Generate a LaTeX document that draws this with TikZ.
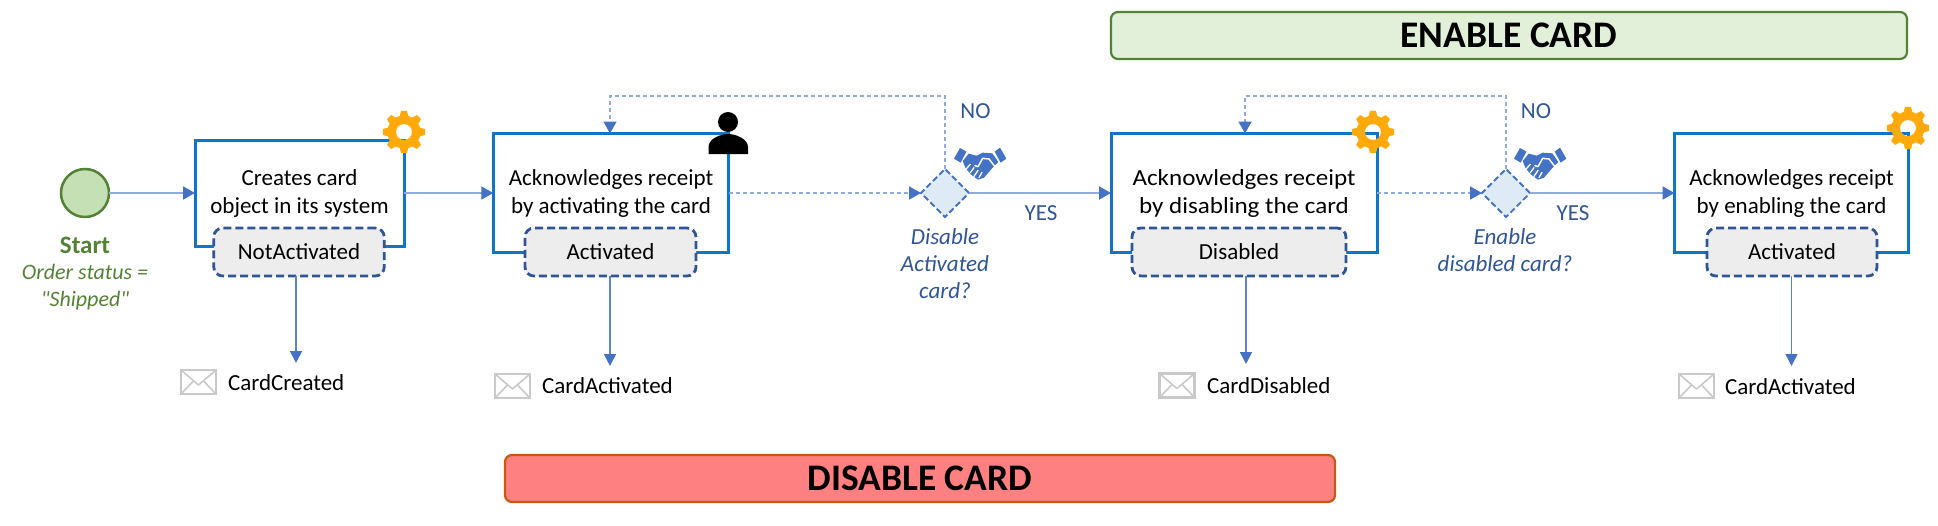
\documentclass[tikz,border=0pt]{standalone}
\usepackage{fontspec}
\setmainfont[Ligatures=TeXOff]{Carlito}
\newfontfamily\widefont[FakeStretch=1.09,Ligatures=TeXOff]{Carlito}
\usetikzlibrary{arrows.meta,shapes.geometric}
\definecolor{boxblue}{HTML}{0F75C9}
\definecolor{stateblue}{HTML}{2F5597}
\definecolor{statefill}{HTML}{EDEDED}
\definecolor{lineblue}{HTML}{8FAADC}
\definecolor{tipblue}{HTML}{4472C4}
\definecolor{diafill}{HTML}{DEEBF7}
\definecolor{startgreen}{HTML}{548235}
\definecolor{startfill}{HTML}{C5E0B4}
\definecolor{gearorange}{HTML}{FFA90B}
\definecolor{envgrey}{HTML}{C9C9C9}
\definecolor{enablefill}{HTML}{E2F0D9}
\definecolor{disablefill}{HTML}{FF8080}
\definecolor{disableline}{HTML}{C55A11}
\tikzset{
  base/.style={inner sep=0pt,outer sep=0pt},
  procbox/.style={base,draw=boxblue,line width=3pt,align=center,font=\fontsize{23}{28}\selectfont},
  statebox/.style={base,draw=stateblue,fill=statefill,line width=2.8pt,rounded corners=9pt,
    dash pattern=on 8pt off 4pt,font=\fontsize{23}{28}\selectfont,minimum height=48pt},
  deci/.style={base,diamond,aspect=1,draw=tipblue,fill=diafill,line width=1.8pt,
    dash pattern=on 6pt off 3pt,minimum width=48pt,minimum height=48pt},
  conn/.style={draw=lineblue,line width=2pt,-{Triangle[length=12pt,width=13pt,color=tipblue]}},
  dconn/.style={conn,line width=1.8pt,dash pattern=on 4pt off 3pt},
  emit/.style={draw=tipblue!70!lineblue,line width=1.6pt,-{Triangle[length=12pt,width=12pt,color=tipblue]}},
  bluetxt/.style={base,text=stateblue,font=\fontsize{23}{27}\selectfont},
  decitxt/.style={base,text=stateblue,align=center,font=\fontsize{23}{27}\itshape\selectfont},
  banner/.style={base,rounded corners=7pt,line width=2.2pt,font=\fontsize{37.5}{42}\bfseries\selectfont},
  evt/.style={base,anchor=west,font=\fontsize{23}{26}\selectfont},
  gearicon/.pic={
    \fill[gearorange,even odd rule]
      plot[domain=0:360,samples=193] ({(16.5+4.7*min(1,max(0,0.5+1.1*cos(8*\x))))*cos(\x)},
                                      {(16.5+4.7*min(1,max(0,0.5+1.1*cos(8*\x))))*sin(\x)}) -- cycle
      (0,0) circle (8);
  },
  envicon/.pic={
    \draw[envgrey,line width=2.6pt] (-17.5,-12) rectangle (17.5,12);
    \draw[envgrey,line width=1.6pt,line join=round] (-17.5,-12) -- (0,3) -- (17.5,-12);
    \draw[envgrey,line width=1.6pt] (-17.5,12) -- (-5,-1) (17.5,12) -- (5,-1);
  },
  shake/.pic={
    \begin{scope}[scale=0.3333,shift={(-178,-215)}]
      \fill[tipblue] (100,205) -- (118,173) -- (137,184) -- (120,217) -- cycle;
      \fill[tipblue] (222,184) -- (238,172) -- (257,205) -- (240,217) -- cycle;
      \fill[tipblue] (126,212) -- (144,190) -- (168,196) -- (186,187) -- (215,189) -- (233,215)
         -- (214,234) -- (190,262) -- (172,268) -- (150,252) -- (134,232) -- cycle;
      \draw[white,line width=1.5pt,line join=round,line cap=round]
         (163,226) -- (172,229) -- (186,204) -- (205,206) -- (222,228);
      \draw[white,line width=1.3pt,line cap=round]
         (149,222) -- (136,236) (160,232) -- (148,248) (172,240) -- (160,258) (184,246) -- (175,262);
    \end{scope}
  },
}
\begin{document}
\begin{tikzpicture}[x=1pt,y=-1pt]
\useasboundingbox (0,0) rectangle (1938,525);
% banners
\node[banner,draw=startgreen,fill=enablefill,minimum width=796pt,minimum height=47pt] (enable) at (1509,35.5) {ENABLE CARD};
\node[banner,draw=disableline,fill=disablefill,minimum width=830pt,minimum height=47pt] (disable) at (920,478.5) {DISABLE CARD};
% start
\node[base,circle,draw=startgreen,fill=startfill,line width=2.5pt,minimum size=48pt] (start) at (85,193) {};
\node[base,text=startgreen,font=\fontsize{25}{28}\bfseries\selectfont] (startlbl) at (85,245) {Start};
\node[base,text=startgreen,align=center,font=\fontsize{22}{26.5}\itshape\selectfont] (startcond) at (85,287) {Order status =\\"Shipped"};
% process boxes
\node[procbox,minimum width=209pt,minimum height=106pt] (box1) at (299.5,193) {Creates card\\object in its system};
\node[procbox,minimum width=235.5pt,minimum height=119pt] (box2) at (611,193) {Acknowledges receipt\\by activating the card};
\node[procbox,minimum width=266pt,minimum height=119pt,font=\fontsize{23}{28}\widefont] (box3) at (1244,193) {Acknowledges receipt\\by disabling the card};
\node[procbox,minimum width=234pt,minimum height=119pt] (box4) at (1791.5,193) {Acknowledges receipt\\by enabling the card};
% decisions
\node[deci] (d1) at (945,193) {};
\node[deci] (d2) at (1506,193) {};
% loop corners and event ends
\coordinate (loop1) at (945,96);
\coordinate (loop2) at (1506,96);
\coordinate (loopin1) at (610,96);
\coordinate (loopin2) at (1245,96);
\coordinate (end1) at (296,363);
\coordinate (end2) at (610,366);
\coordinate (end3) at (1246,364);
\coordinate (end4) at (1791.5,366);
% connectors
\draw[conn] (start) -- (box1);
\draw[conn] (box1.east) -- (box2.west);
\draw[dconn] (box2.east) -- (d1.west);
\draw[conn] (d1.east) -- (box3.west);
\draw[dconn] (box3.east) -- (d2.west);
\draw[conn] (d2.east) -- (box4.west);
\draw[dconn,line width=1.5pt] (d1.north) -- (loop1) -- (loopin1) -- (loopin1 |- box2.north);
\draw[dconn,line width=1.5pt] (d2.north) -- (loop2) -- (loopin2) -- (loopin2 |- box3.north);
% state boxes
\node[statebox,minimum width=170.5pt] (st1) at (299,252) {NotActivated};
\node[statebox,minimum width=171pt] (st2) at (610.5,252) {Activated};
\node[statebox,minimum width=214pt] (st3) at (1239,252) {Disabled};
\node[statebox,minimum width=170pt] (st4) at (1792,252) {Activated};
% event arrows
\draw[emit] (st1.south -| end1) -- (end1);
\draw[emit] (st2.south -| end2) -- (end2);
\draw[emit] (st3.south -| end3) -- (end3);
\draw[emit] (st4.south -| end4) -- (end4);
% events
\pic at (198.5,382) {envicon};
\pic at (512.5,386) {envicon};
\pic at (1177,385.5) {envicon};
\pic at (1696.5,386) {envicon};
\node[evt] (ev1) at (228,383) {CardCreated};
\node[evt] (ev2) at (542,386) {CardActivated};
\node[evt] (ev3) at (1207,386) {CardDisabled};
\node[evt] (ev4) at (1725,387) {CardActivated};
% decision labels
\node[bluetxt] (no1) at (975.5,111) {NO};
\node[bluetxt] (yes1) at (1041,213) {YES};
\node[bluetxt] (no2) at (1536,111) {NO};
\node[bluetxt] (yes2) at (1573,213) {YES};
\node[decitxt] (q1) at (945,264) {Disable\\Activated\\card?};
\node[decitxt] (q2) at (1505,250) {Enable\\disabled card?};
% icons
\pic at (404,132) {gearicon};
\pic at (1373,132) {gearicon};
\pic at (1908,128) {gearicon};
\pic at (980,162) {shake};
\pic at (1540,162) {shake};
% person
\fill (728,122) circle (10);
\fill (708.5,154) -- (708.5,147) .. controls (708.5,139) and (720,134) .. (728,134)
   .. controls (736,134) and (748,139) .. (748,147) -- (748,154) -- cycle;
\end{tikzpicture}
\end{document}
